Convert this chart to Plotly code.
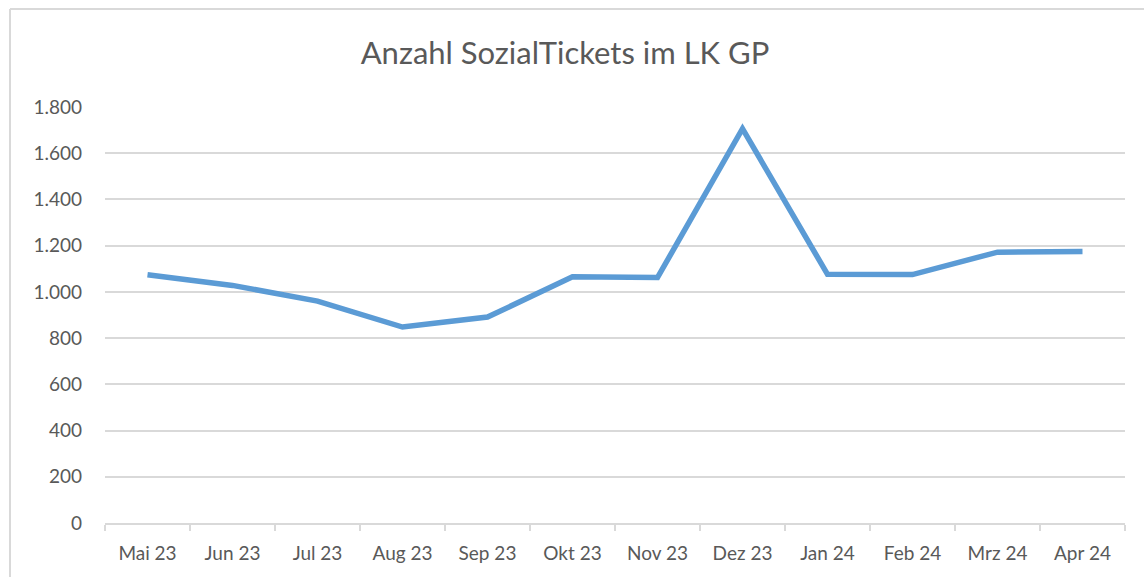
import plotly.graph_objects as go

months = ["Mai 23", "Jun 23", "Jul 23", "Aug 23", "Sep 23", "Okt 23",
          "Nov 23", "Dez 23", "Jan 24", "Feb 24", "Mrz 24", "Apr 24"]
tickets = [1074, 1028, 960, 848, 891, 1065, 1062, 1706, 1076, 1075, 1172, 1175]
y_ticks = [0, 200, 400, 600, 800, 1000, 1200, 1400, 1600, 1800]

W, H = 1144, 577
ML, MT = 105, 107
MR = W - 1125
MB = H - 523
PW, PH = W - ML - MR, H - MT - MB

def px_x(p):
    return (p - ML) / PW

def px_y(p):
    return (H - MB - p) / PH

fig = go.Figure(go.Scatter(
    x=months, y=tickets, mode="lines",
    line=dict(color="#5b9bd5", width=5.5, shape="linear"),
    hoverinfo="x+y", showlegend=False,
))

font = "Lato, 'Open Sans', sans-serif"

fig.update_layout(
    width=W, height=H,
    margin=dict(l=ML, r=MR, t=MT, b=MB, pad=0),
    paper_bgcolor="white", plot_bgcolor="white",
    separators=",.",
    title=dict(text="Anzahl SozialTickets im LK GP", x=565 / W, xref="container",
               xanchor="center", y=1 - 53 / H, yref="container", yanchor="middle",
               font=dict(family=font, size=31, color="#595959")),
    font=dict(family=font, color="#595959"),
    xaxis=dict(
        type="category", range=[-0.5, len(months) - 0.5],
        showgrid=False, showline=True, linecolor="#d9d9d9",
        linewidth=1.5, ticks="outside", tickson="boundaries", ticklen=6,
        tickcolor="#d9d9d9", tickwidth=1.5, tickfont=dict(size=19, color="#595959"),
        ticklabelstandoff=12, zeroline=False,
    ),
    yaxis=dict(
        range=[0, 1800], tickvals=y_ticks, tickformat=",d",
        showgrid=True, gridcolor="#d9d9d9", gridwidth=1.5,
        showline=False, zeroline=False, ticks="",
        tickfont=dict(size=19, color="#595959"), ticklabelstandoff=22,
    ),
    shapes=[
        # white mask over the far right strip (below the top border)
        dict(type="rect", xref="paper", yref="paper", layer="above",
             x0=px_x(1130), x1=px_x(W + 2), y0=px_y(12), y1=px_y(H + 2),
             fillcolor="white", line=dict(width=0)),
        dict(type="line", xref="paper", yref="paper",
             x0=px_x(10), x1=px_x(10), y0=px_y(9), y1=px_y(H),
             line=dict(color="#d9d9d9", width=2)),
        dict(type="line", xref="paper", yref="paper",
             x0=px_x(10), x1=px_x(W), y0=px_y(9), y1=px_y(9),
             line=dict(color="#d9d9d9", width=2)),
    ],
)

fig.write_html(
    "out.html",
    config={"displayModeBar": False},
    post_script=(
        "document.body.style.margin='0';"
        "document.body.style.overflow='hidden';"
        "document.documentElement.style.overflow='hidden';"
    ),
)
